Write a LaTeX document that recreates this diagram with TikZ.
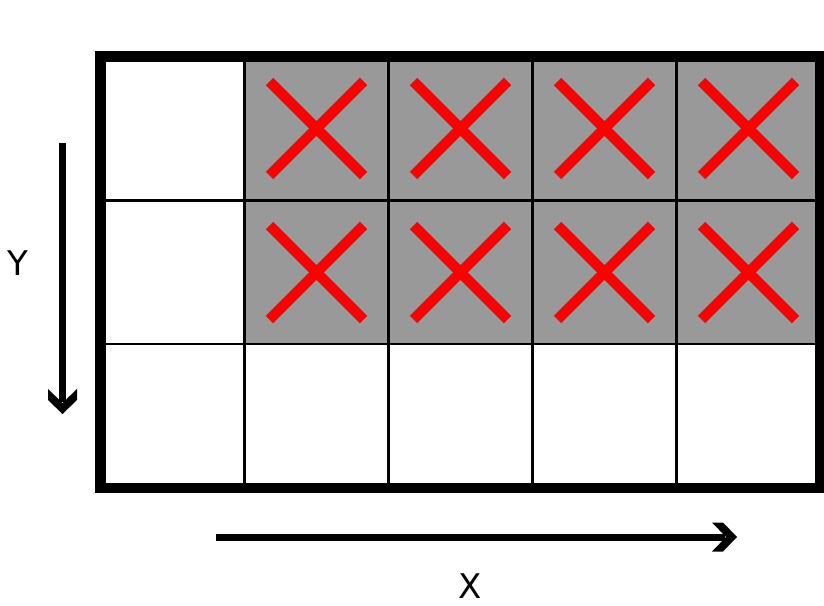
\documentclass[tikz,border=0pt]{standalone}
\usepackage{fontspec}
\setmainfont{DejaVu Sans}
\usetikzlibrary{arrows.meta}
\definecolor{cellgray}{HTML}{999999}
\begin{document}
\begin{tikzpicture}[x=1pt,y=-1pt,
  gridline/.style={line width=2.4pt,black},
  border/.style={line width=10.5pt,black},
  cross/.style={line width=10.5pt,red,line cap=butt},
  axisshaft/.style={line width=7pt,black,shorten >=12pt},
  arrowhead/.style={fill=black},
  axislabel/.style={font=\fontsize{34}{34}\selectfont,inner sep=0pt}]
\useasboundingbox (0,0) rectangle (824,605);
% gray cells
\fill[cellgray] (244.5,56.5) rectangle (820.5,344);
% red crosses
\foreach \cx in {316.5,460.5,604.5,748.5}{
  \foreach \cy in {128.5,272.5}{
    \draw[cross] (\cx-47,\cy-47) -- (\cx+47,\cy+47);
    \draw[cross] (\cx-47,\cy+47) -- (\cx+47,\cy-47);
  }
}
% inner grid lines
\foreach \gx in {244.5,388.5,532.5,676.5}{
  \draw[gridline] (\gx,56.5) -- (\gx,488);
}
\foreach \gy in {200.5,344}{
  \draw[gridline] (100.5,\gy) -- (820.5,\gy);
}
% outer border
\draw[border] (100.5,56.5) rectangle (820.5,488);
% Y axis
\coordinate (ytop) at (62.5,143);
\coordinate (ybot) at (62.5,414);
\draw[axisshaft] (ytop) -- (ybot);
\fill[arrowhead] (ybot) -- ++(-14.5,-14) -- ++(0,-11) -- ++(14.5,14) -- ++(14.5,-14) -- ++(0,11) -- cycle;
\node[axislabel] (ylab) at (18,263) {Y};
% X axis
\coordinate (xleft) at (216,537);
\coordinate (xright) at (737,537);
\draw[axisshaft] (xleft) -- (xright);
\fill[arrowhead] (xright) -- ++(-14,-14.5) -- ++(-11,0) -- ++(14,14.5) -- ++(-14,14.5) -- ++(11,0) -- cycle;
\node[axislabel] (xlab) at (470,586) {X};
\end{tikzpicture}
\end{document}
